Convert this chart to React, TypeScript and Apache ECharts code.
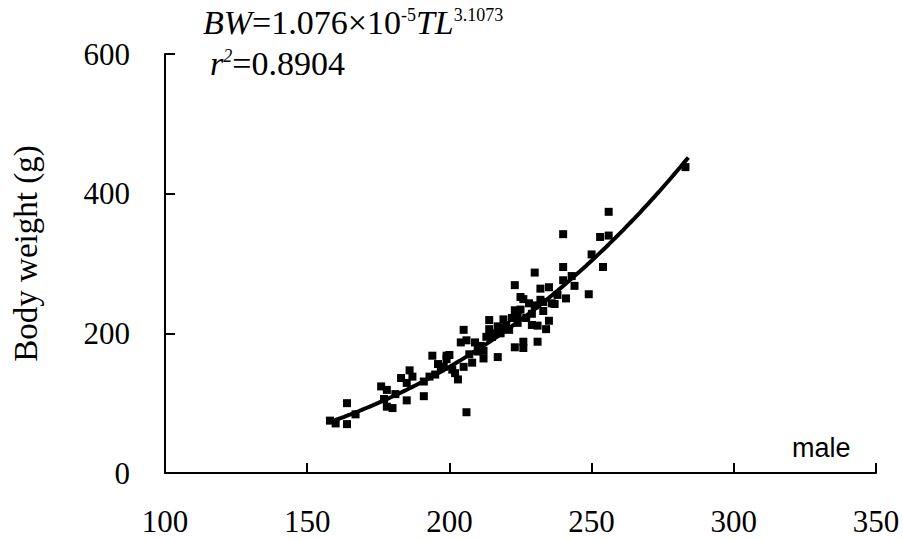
import React, { useEffect, useRef } from "react";
import * as echarts from "echarts";

// Total length (mm) and body weight (g) of males
const totalLength: number[] = [
  158, 160, 164, 164, 167, 176, 178, 177, 178, 180, 181, 183, 185, 185, 186, 187, 191, 191, 193, 194,
  195, 196, 197, 199, 199, 200, 201, 202, 203, 204, 205, 205, 206, 206, 208, 209, 210, 210, 212, 212,
  213, 214, 214, 215, 217, 217, 219, 219, 222, 223, 223, 223, 224, 225, 225, 226, 226, 226, 227, 228,
  229, 230, 230, 231, 231, 232, 232, 233, 234, 235, 235, 236, 237, 240, 240, 240, 241, 243, 244, 249,
  250, 253, 254, 256, 256, 283, 198, 207, 211, 216, 218, 220, 221, 224, 229, 233, 238,
];
const bodyWeight: number[] = [
  75, 71, 100, 70, 84, 124, 119, 106, 95, 93, 113, 136, 129, 104, 147, 138, 110, 131, 138, 168,
  141, 156, 150, 168, 163, 169, 148, 143, 134, 187, 205, 152, 190, 87, 158, 187, 181, 174, 175, 164,
  195, 219, 206, 195, 166, 210, 220, 208, 222, 180, 233, 269, 224, 252, 234, 249, 188, 179, 222, 243,
  212, 287, 240, 188, 211, 264, 248, 245, 206, 218, 266, 243, 242, 342, 295, 276, 250, 282, 268, 256,
  313, 338, 295, 374, 340, 438, 152, 170, 182, 200, 200, 212, 205, 215, 228, 232, 255,
];

// Fitted power curve printed on the chart: BW = a * TL^b
const fitA = 1.076e-5;
const fitB = 3.1073;
const fitFrom = 158;
const fitTo = 284;

const xTicks = { min: 100, max: 350, interval: 50 };
const yTicks = { min: 0, max: 600, interval: 200 };

const yAxisTitle = "Body weight (g)";
const groupLabel = "male";
const r2Text = "0.8904";

export default function App() {
  const ref = useRef<HTMLDivElement>(null);
  useEffect(() => {
    if (!ref.current) return;
    const chart = echarts.init(ref.current, null, { renderer: "svg" });
    const points = totalLength.map((x, i) => [x, bodyWeight[i]]);
    const curve: number[][] = [];
    for (let x = fitFrom; x <= fitTo; x += 1) curve.push([x, fitA * Math.pow(x, fitB)]);

    const serif = "Liberation Serif";
    const eqRich = {
      i: { fontFamily: serif, fontStyle: "italic", fontSize: 34, lineHeight: 40, fill: "#000" },
      n: { fontFamily: serif, fontSize: 34, lineHeight: 40, fill: "#000" },
      s: { fontFamily: serif, fontSize: 18, verticalAlign: "top", padding: [4, 0, 0, 0], fill: "#000" },
      si: { fontFamily: serif, fontStyle: "italic", fontSize: 18, verticalAlign: "top", padding: [4, 0, 0, 0], fill: "#000" },
    };
    chart.setOption({
      animation: false,
      backgroundColor: "#ffffff",
      grid: { left: 165, right: 27, top: 54, bottom: 67, containLabel: false },
      xAxis: {
        type: "value",
        min: xTicks.min,
        max: xTicks.max,
        interval: xTicks.interval,
        splitLine: { show: false },
        axisLine: { lineStyle: { color: "#000", width: 2 } },
        axisTick: { inside: true, length: 10, lineStyle: { color: "#000", width: 2 } },
        axisLabel: { color: "#000", fontFamily: serif, fontSize: 31, margin: 33 },
      },
      yAxis: {
        type: "value",
        min: yTicks.min,
        max: yTicks.max,
        interval: yTicks.interval,
        splitLine: { show: false },
        axisLine: { show: true, lineStyle: { color: "#000", width: 2 } },
        axisTick: { show: true, inside: true, length: 10, lineStyle: { color: "#000", width: 2 } },
        axisLabel: { color: "#000", fontFamily: serif, fontSize: 31, margin: 35 },
        name: yAxisTitle,
        nameLocation: "middle",
        nameRotate: 90,
        nameGap: 123,
        nameTextStyle: { color: "#000", fontFamily: serif, fontSize: 33, padding: [0, 0, 0, 20] },
      },
      series: [
        {
          type: "scatter",
          data: points,
          symbol: "rect",
          symbolSize: 8,
          itemStyle: { color: "#000", opacity: 1 },
          z: 2,
        },
        {
          type: "line",
          data: curve,
          showSymbol: false,
          smooth: false,
          lineStyle: { color: "#000", width: 4 },
          z: 3,
        },
      ],
      graphic: [
        {
          type: "text",
          left: 203,
          top: 5,
          style: {
            text: "{i|BW}{n|=1.076×10}{s|-5}{i|TL}{s|3.1073}",
            fill: "#000",
            rich: eqRich,
          },
        },
        {
          type: "text",
          left: 210,
          top: 46,
          style: {
            text: "{i|r}{si|2}{n|=" + r2Text + "}",
            fill: "#000",
            rich: eqRich,
          },
        },
        {
          type: "text",
          left: 792,
          top: 434,
          style: { text: groupLabel, fontFamily: "Liberation Sans", fontSize: 27, fill: "#000" },
        },
      ],
    });
    return () => chart.dispose();
  }, []);
  return (
    <div
      ref={ref}
      style={{ position: "fixed", left: 0, top: 0, width: 903, height: 540, background: "#fff" }}
    />
  );
}
